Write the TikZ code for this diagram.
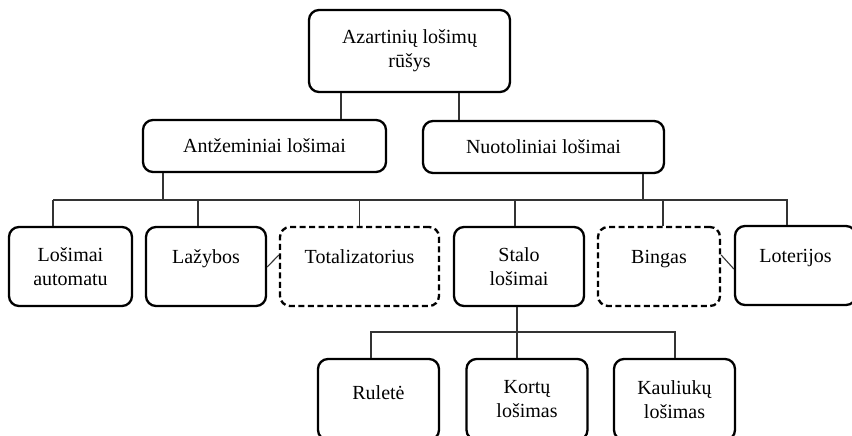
\documentclass[tikz,border=0pt]{standalone}
\usepackage{fontspec}
\setmainfont{Liberation Serif}
\tikzset{
    kind/.style={
        draw, line width=2.3pt,
        rounded corners=10pt,
        align=center, inner sep=0pt,
        font=\fontsize{20}{24}\selectfont,
    },
    kind dashed/.style={kind, dash pattern=on 6pt off 3.5pt},
    game/.style={kind, minimum height=79pt},
    game one/.style={text height=14pt, text depth=21pt},
    sub/.style={kind, minimum width=121pt, minimum height=81pt},
    link/.style={line width=1.1pt, draw=black!80},
}

\begin{document}
\begin{tikzpicture}[x=1pt, y=-1pt]
        \useasboundingbox (0,0) rectangle (852,436);
        \clip (0,0) rectangle (852,436);
        % top levels
        \node[kind, minimum width=201pt, minimum height=82pt] (rusys) at (409.5,51) {Azartinių lošimų\\rūšys};
        \node[kind, minimum width=243pt, minimum height=52pt] (antz) at (264.5,146) {Antžeminiai lošimai};
        \node[kind, minimum width=241pt, minimum height=52pt] (nuot) at (543.5,147) {Nuotoliniai lošimai};
        % games
        \node[game, minimum width=123pt] (autom) at (70.5,266.5) {Lošimai\\automatu};
        \node[game, game one, minimum width=120pt] (lazyb) at (206,266.5) {Lažybos};
        \node[game, game one, kind dashed, minimum width=159pt] (total) at (359.5,266.5) {Totalizatorius};
        \node[game, minimum width=130pt] (stalo) at (519,266.5) {Stalo\\lošimai};
        \node[game, game one, kind dashed, minimum width=122pt] (bingas) at (659,266.5) {Bingas};
        \node[game, game one, minimum width=121pt] (loter) at (795.5,265.5) {Loterijos};
        % table games
        \node[sub, text height=14pt, text depth=14pt] (rulete) at (378.5,399.5) {Ruletė};
        \node[sub] (kortu) at (527,399.5) {Kortų\\lošimas};
        \node[sub] (kauliuku) at (674.5,399.5) {Kauliukų\\lošimas};
        % connectors
        \coordinate (bus) at (0,200);
        \coordinate (bus2) at (0,332);
        \draw[link] ([xshift=-68.5pt]rusys.south) -- ([xshift=76.5pt]antz.north);
        \draw[link] ([xshift=49.5pt]rusys.south) -- ([xshift=-84.5pt]nuot.north);
        \draw[link] ([xshift=-101.5pt]antz.south) -- ([xshift=-101.5pt]antz.south |- bus);
        \draw[link] ([xshift=99.5pt]nuot.south) -- ([xshift=99.5pt]nuot.south |- bus);
        \draw[link] ([xshift=-17.5pt]autom.north |- bus) -- ([xshift=-17.5pt]autom.north)
            ([xshift=-17.5pt]autom.north |- bus) -- ([xshift=-8.5pt]loter.north |- bus)
            -- ([xshift=-8.5pt]loter.north);
        \foreach \n/\s in {lazyb/-8, total/0, stalo/-4, bingas/4}
            \draw[link] ([xshift=\s pt]\n.north |- bus) -- ([xshift=\s pt]\n.north);
        \draw[link] ([yshift=-0.5pt]lazyb.east) -- ([yshift=11.5pt]total.west);
        \draw[link] ([yshift=11.5pt]bingas.east) -- ([yshift=-3.5pt]loter.west);
        \draw[link] ([xshift=-2pt]stalo.south) -- ([xshift=-2pt]stalo.south |- bus2);
        \draw[link] ([xshift=-7.5pt]rulete.north) -- ([xshift=-7.5pt]rulete.north |- bus2)
            -- ([xshift=0.5pt]kauliuku.north |- bus2) -- ([xshift=0.5pt]kauliuku.north);
        \draw[link] ([xshift=-10pt]kortu.north) -- ([xshift=-10pt]kortu.north |- bus2);
    \end{tikzpicture}
\end{document}
